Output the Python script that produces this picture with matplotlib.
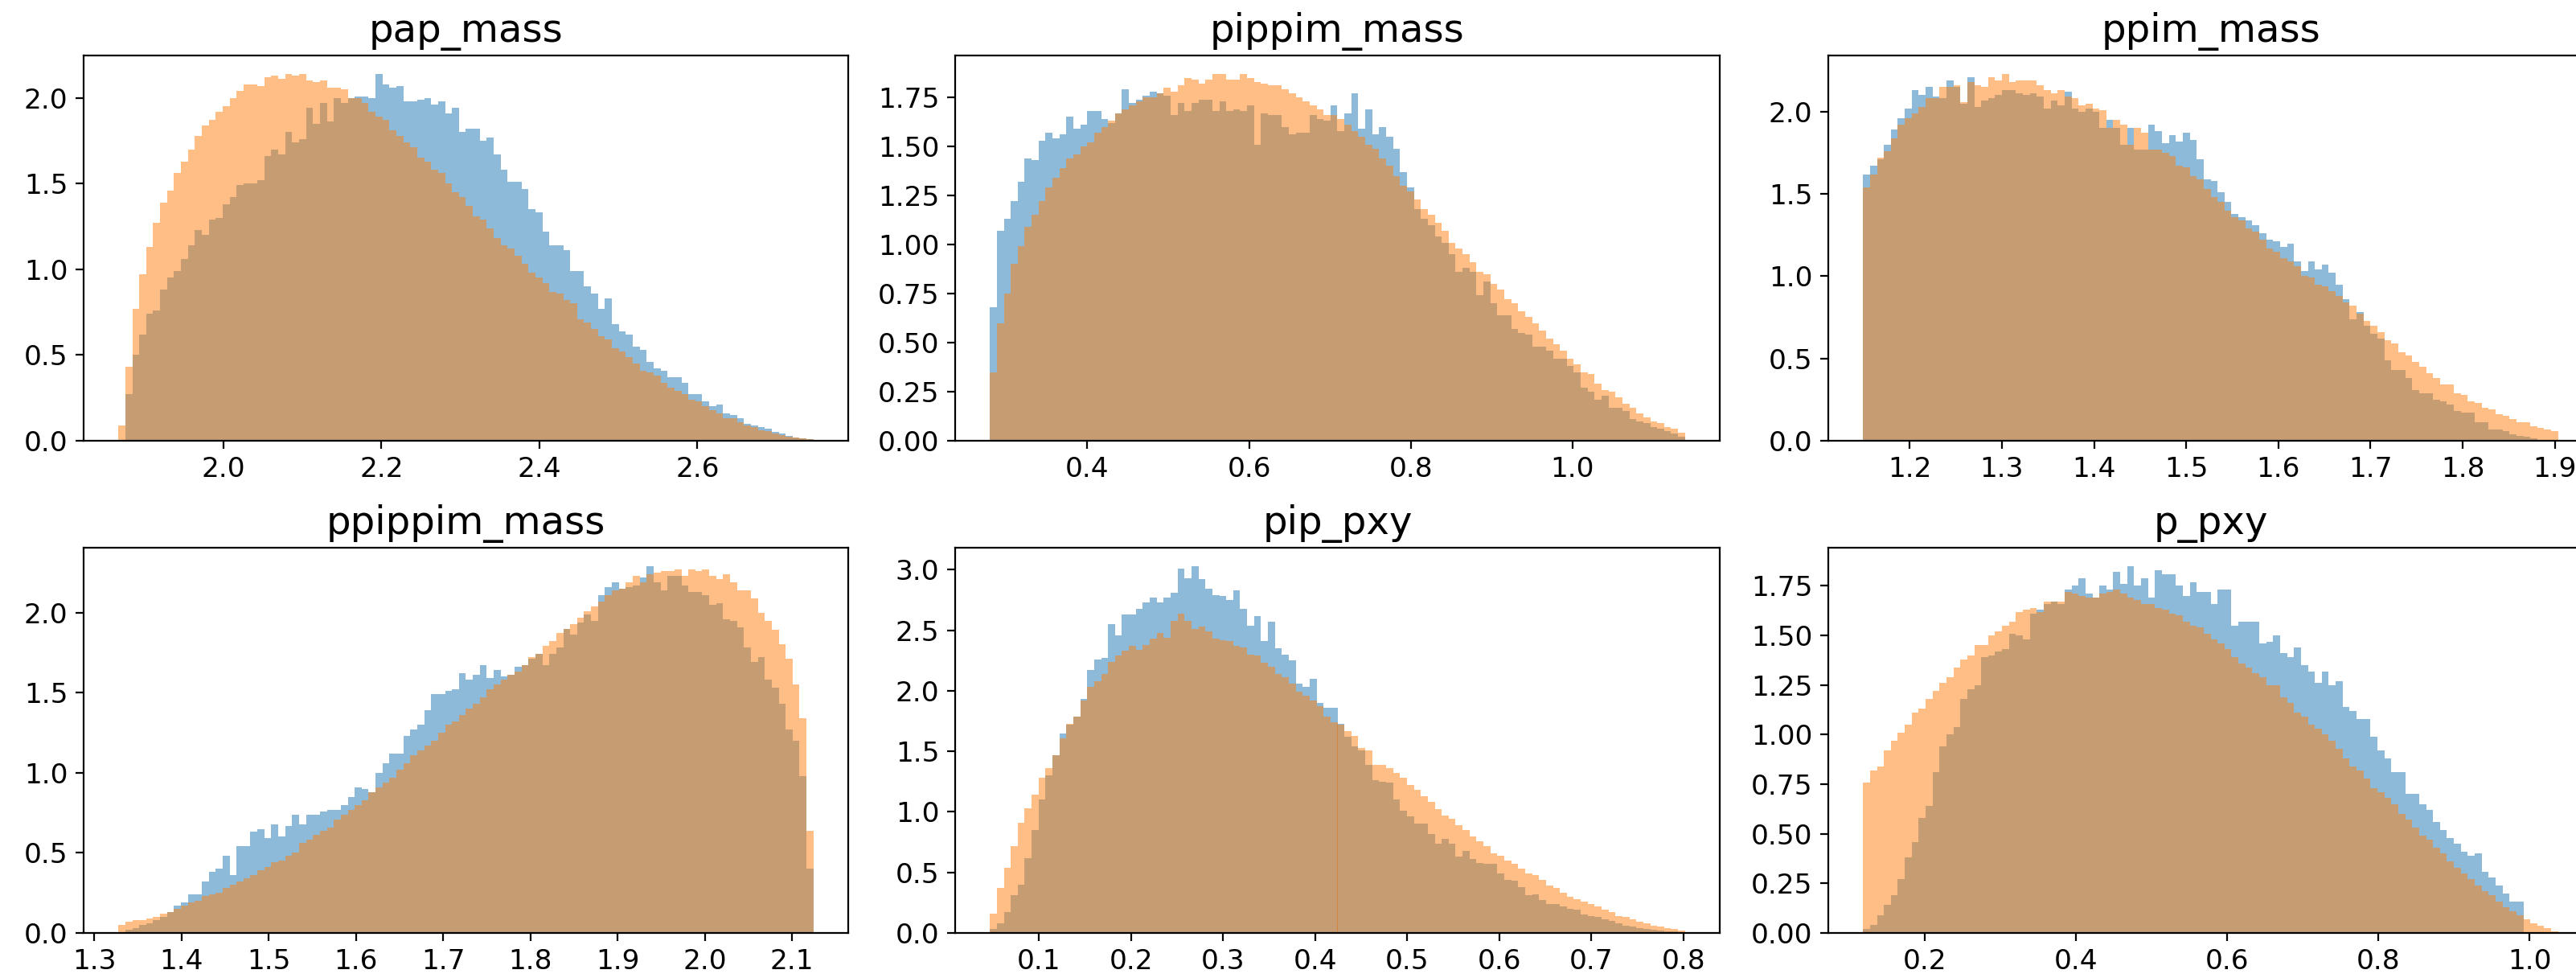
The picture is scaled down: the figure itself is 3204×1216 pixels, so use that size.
import matplotlib
matplotlib.use('Agg')
import matplotlib.pyplot as plt
from matplotlib.ticker import MultipleLocator
import numpy as np

# panel names and histogram ranges (100 bins each, density-normalised heights)
titles = ['pap_mass', 'pippim_mass', 'ppim_mass', 'ppippim_mass', 'pip_pxy', 'p_pxy']
ranges = [(1.867, 2.747), (0.2795, 1.139), (1.1493, 1.9036),
          (1.3277, 2.1246), (0.0468, 0.8018), (0.1182, 1.038)]
ytick_steps = [0.5, 0.25, 0.5, 0.5, 0.5, 0.25]

pap_mass_blue = [
    0.0, 0.27, 0.50, 0.62, 0.74, 0.76, 0.88, 0.95, 0.99, 1.06,
    1.14, 1.23, 1.20, 1.29, 1.30, 1.38, 1.42, 1.49, 1.50, 1.50,
    1.52, 1.66, 1.70, 1.67, 1.80, 1.74, 1.76, 1.94, 1.85, 1.97,
    1.86, 2.00, 1.97, 2.00, 2.01, 2.01, 2.00, 2.14, 2.08, 2.06,
    2.07, 1.98, 1.98, 1.99, 2.00, 1.96, 1.98, 1.91, 1.94, 1.80,
    1.82, 1.82, 1.75, 1.77, 1.67, 1.58, 1.51, 1.51, 1.47, 1.35,
    1.33, 1.22, 1.14, 1.14, 1.11, 0.99, 0.99, 0.90, 0.86, 0.77,
    0.83, 0.68, 0.64, 0.62, 0.55, 0.53, 0.46, 0.42, 0.41, 0.37,
    0.37, 0.34, 0.27, 0.27, 0.23, 0.20, 0.21, 0.16, 0.15, 0.13,
    0.10, 0.09, 0.08, 0.07, 0.05, 0.04, 0.03, 0.02, 0.015, 0.01]
pap_mass_orange = [
    0.09, 0.43, 0.77, 0.97, 1.13, 1.27, 1.39, 1.46, 1.56, 1.63,
    1.70, 1.78, 1.84, 1.87, 1.92, 1.95, 2.00, 2.04, 2.08, 2.08,
    2.07, 2.12, 2.13, 2.11, 2.14, 2.13, 2.14, 2.10, 2.09, 2.10,
    2.06, 2.06, 2.05, 2.00, 2.00, 1.97, 1.92, 1.89, 1.87, 1.81,
    1.78, 1.74, 1.71, 1.65, 1.63, 1.58, 1.56, 1.50, 1.45, 1.42,
    1.37, 1.31, 1.29, 1.24, 1.18, 1.14, 1.12, 1.08, 1.03, 0.98,
    0.95, 0.92, 0.87, 0.86, 0.82, 0.80, 0.71, 0.69, 0.65, 0.61,
    0.59, 0.54, 0.52, 0.49, 0.45, 0.41, 0.40, 0.38, 0.34, 0.31,
    0.29, 0.27, 0.24, 0.23, 0.20, 0.18, 0.16, 0.13, 0.13, 0.11,
    0.09, 0.08, 0.06, 0.055, 0.04, 0.035, 0.025, 0.02, 0.015, 0.01]

pippim_mass_blue = [
    0.68, 1.07, 1.13, 1.22, 1.32, 1.44, 1.43, 1.53, 1.57, 1.54,
    1.56, 1.65, 1.59, 1.61, 1.68, 1.68, 1.64, 1.62, 1.67, 1.79,
    1.72, 1.74, 1.76, 1.78, 1.77, 1.76, 1.66, 1.72, 1.68, 1.72,
    1.74, 1.74, 1.68, 1.73, 1.68, 1.69, 1.68, 1.71, 1.51, 1.67,
    1.66, 1.66, 1.60, 1.56, 1.57, 1.57, 1.66, 1.64, 1.63, 1.71,
    1.58, 1.67, 1.77, 1.59, 1.69, 1.56, 1.60, 1.55, 1.49, 1.37,
    1.29, 1.18, 1.13, 1.10, 1.04, 1.01, 0.95, 0.86, 0.88, 0.86,
    0.74, 0.81, 0.70, 0.64, 0.64, 0.57, 0.55, 0.54, 0.48, 0.48,
    0.46, 0.42, 0.42, 0.38, 0.35, 0.27, 0.25, 0.21, 0.23, 0.17,
    0.17, 0.15, 0.11, 0.10, 0.09, 0.07, 0.06, 0.05, 0.035, 0.02]
pippim_mass_orange = [
    0.35, 0.60, 0.75, 0.90, 0.99, 1.09, 1.15, 1.22, 1.29, 1.34,
    1.39, 1.44, 1.46, 1.50, 1.52, 1.57, 1.60, 1.63, 1.67, 1.69,
    1.71, 1.73, 1.75, 1.75, 1.77, 1.80, 1.78, 1.81, 1.85, 1.84,
    1.82, 1.84, 1.87, 1.87, 1.84, 1.84, 1.87, 1.85, 1.83, 1.82,
    1.81, 1.81, 1.79, 1.77, 1.75, 1.73, 1.71, 1.69, 1.66, 1.66,
    1.64, 1.61, 1.58, 1.55, 1.51, 1.49, 1.44, 1.40, 1.35, 1.30,
    1.27, 1.23, 1.18, 1.15, 1.11, 1.07, 1.01, 0.98, 0.95, 0.91,
    0.86, 0.85, 0.80, 0.77, 0.72, 0.70, 0.66, 0.63, 0.60, 0.56,
    0.52, 0.49, 0.46, 0.42, 0.39, 0.35, 0.34, 0.29, 0.26, 0.25,
    0.22, 0.19, 0.17, 0.14, 0.12, 0.10, 0.09, 0.07, 0.06, 0.04]

ppim_mass_blue = [
    1.62, 1.67, 1.71, 1.80, 1.89, 1.96, 2.02, 2.13, 2.10, 2.15,
    2.09, 2.08, 2.19, 2.15, 2.05, 2.21, 2.03, 2.07, 2.08, 2.10,
    2.13, 2.13, 2.11, 2.10, 2.11, 2.09, 2.02, 2.07, 2.04, 2.12,
    2.02, 2.00, 2.02, 2.00, 1.90, 1.95, 1.90, 1.80, 1.90, 1.77,
    1.77, 1.92, 1.88, 1.81, 1.86, 1.82, 1.87, 1.83, 1.71, 1.59,
    1.58, 1.51, 1.45, 1.38, 1.36, 1.34, 1.31, 1.26, 1.22, 1.21,
    1.18, 1.20, 1.09, 1.03, 1.09, 1.04, 1.07, 1.02, 0.95, 0.86,
    0.74, 0.78, 0.70, 0.65, 0.62, 0.49, 0.43, 0.43, 0.38, 0.31,
    0.29, 0.29, 0.25, 0.24, 0.22, 0.18, 0.17, 0.17, 0.11, 0.11,
    0.07, 0.07, 0.06, 0.04, 0.03, 0.025, 0.015, 0.0, 0.0, 0.0]
ppim_mass_orange = [
    1.54, 1.62, 1.72, 1.76, 1.84, 1.92, 1.96, 1.99, 2.03, 2.08,
    2.08, 2.15, 2.15, 2.16, 2.06, 2.18, 2.16, 2.15, 2.21, 2.19,
    2.23, 2.18, 2.19, 2.19, 2.19, 2.16, 2.13, 2.11, 2.13, 2.09,
    2.08, 2.04, 2.05, 2.02, 2.01, 1.90, 1.95, 1.92, 1.80, 1.90,
    1.87, 1.77, 1.77, 1.75, 1.73, 1.67, 1.66, 1.61, 1.59, 1.53,
    1.48, 1.45, 1.40, 1.36, 1.34, 1.29, 1.27, 1.22, 1.17, 1.15,
    1.11, 1.09, 1.06, 1.00, 0.99, 0.95, 0.94, 0.91, 0.88, 0.84,
    0.82, 0.77, 0.73, 0.70, 0.66, 0.61, 0.59, 0.54, 0.52, 0.48,
    0.45, 0.41, 0.38, 0.34, 0.34, 0.29, 0.28, 0.24, 0.23, 0.20,
    0.19, 0.16, 0.15, 0.13, 0.11, 0.11, 0.09, 0.08, 0.07, 0.06]

ppippim_mass_blue = [
    0.0, 0.02, 0.03, 0.05, 0.06, 0.08, 0.10, 0.13, 0.17, 0.19,
    0.24, 0.24, 0.32, 0.38, 0.40, 0.48, 0.36, 0.54, 0.54, 0.63,
    0.65, 0.59, 0.68, 0.60, 0.67, 0.74, 0.68, 0.74, 0.74, 0.76,
    0.77, 0.77, 0.80, 0.85, 0.91, 0.90, 0.88, 1.00, 1.06, 1.12,
    1.12, 1.23, 1.27, 1.30, 1.39, 1.49, 1.49, 1.51, 1.52, 1.62,
    1.58, 1.61, 1.67, 1.59, 1.64, 1.60, 1.61, 1.66, 1.67, 1.71,
    1.74, 1.67, 1.74, 1.78, 1.90, 1.86, 1.94, 1.99, 1.95, 2.11,
    2.16, 2.19, 2.15, 2.16, 2.17, 2.22, 2.29, 2.19, 2.14, 2.23,
    2.23, 2.17, 2.13, 2.13, 2.11, 2.05, 2.06, 1.96, 1.95, 1.91,
    1.78, 1.69, 1.72, 1.58, 1.53, 1.43, 1.27, 1.20, 0.98, 0.40]
ppippim_mass_orange = [
    0.05, 0.07, 0.08, 0.08, 0.09, 0.10, 0.12, 0.13, 0.15, 0.17,
    0.19, 0.20, 0.23, 0.24, 0.25, 0.28, 0.30, 0.32, 0.34, 0.36,
    0.39, 0.41, 0.44, 0.45, 0.48, 0.50, 0.56, 0.58, 0.61, 0.64,
    0.66, 0.71, 0.74, 0.77, 0.80, 0.83, 0.88, 0.91, 0.94, 0.97,
    1.02, 1.06, 1.11, 1.14, 1.17, 1.20, 1.25, 1.30, 1.32, 1.36,
    1.40, 1.43, 1.47, 1.52, 1.55, 1.58, 1.61, 1.63, 1.67, 1.72,
    1.74, 1.79, 1.82, 1.87, 1.90, 1.93, 1.97, 2.01, 2.04, 2.07,
    2.11, 2.14, 2.15, 2.19, 2.23, 2.19, 2.24, 2.25, 2.26, 2.26,
    2.27, 2.23, 2.27, 2.26, 2.27, 2.23, 2.21, 2.24, 2.19, 2.14,
    2.14, 2.09, 2.00, 1.95, 1.89, 1.80, 1.71, 1.55, 1.34, 0.64]

pip_pxy_blue = [
    0.03, 0.08, 0.17, 0.31, 0.40, 0.62, 0.85, 1.10, 1.30, 1.47,
    1.65, 1.72, 1.79, 1.93, 2.17, 2.26, 2.27, 2.55, 2.46, 2.63,
    2.63, 2.68, 2.73, 2.77, 2.73, 2.77, 2.81, 3.01, 2.93, 3.03,
    2.92, 2.84, 2.79, 2.78, 2.75, 2.83, 2.68, 2.54, 2.62, 2.41,
    2.57, 2.35, 2.30, 2.25, 2.06, 2.03, 2.10, 1.90, 1.86, 1.86,
    1.73, 1.62, 1.54, 1.51, 1.39, 1.26, 1.25, 1.24, 1.10, 1.01,
    0.96, 0.90, 0.90, 0.82, 0.74, 0.78, 0.74, 0.63, 0.68, 0.61,
    0.58, 0.57, 0.57, 0.49, 0.44, 0.43, 0.38, 0.31, 0.32, 0.27,
    0.24, 0.24, 0.22, 0.20, 0.19, 0.15, 0.14, 0.13, 0.11, 0.10,
    0.08, 0.06, 0.055, 0.04, 0.035, 0.025, 0.02, 0.013, 0.01, 0.005]
pip_pxy_orange = [
    0.16, 0.37, 0.54, 0.72, 0.91, 1.03, 1.14, 1.28, 1.36, 1.47,
    1.61, 1.73, 1.79, 1.92, 2.03, 2.08, 2.14, 2.24, 2.29, 2.33,
    2.37, 2.34, 2.38, 2.43, 2.48, 2.44, 2.58, 2.64, 2.58, 2.51,
    2.53, 2.49, 2.43, 2.42, 2.41, 2.37, 2.36, 2.30, 2.29, 2.23,
    2.20, 2.14, 2.11, 2.06, 1.99, 1.96, 1.92, 1.87, 1.79, 1.74,
    1.72, 1.67, 1.63, 1.53, 1.51, 1.39, 1.39, 1.36, 1.32, 1.28,
    1.22, 1.18, 1.13, 1.08, 1.02, 0.97, 0.94, 0.89, 0.85, 0.80,
    0.76, 0.72, 0.66, 0.64, 0.60, 0.57, 0.53, 0.49, 0.48, 0.44,
    0.39, 0.37, 0.33, 0.30, 0.28, 0.26, 0.24, 0.22, 0.19, 0.17,
    0.14, 0.13, 0.11, 0.09, 0.08, 0.06, 0.05, 0.04, 0.03, 0.02]

p_pxy_blue = [
    0.02, 0.04, 0.09, 0.14, 0.19, 0.27, 0.38, 0.46, 0.58, 0.64,
    0.81, 0.94, 1.00, 1.04, 1.18, 1.23, 1.25, 1.39, 1.40, 1.42,
    1.43, 1.51, 1.50, 1.48, 1.61, 1.63, 1.66, 1.67, 1.66, 1.73,
    1.75, 1.79, 1.71, 1.69, 1.75, 1.73, 1.82, 1.76, 1.85, 1.75,
    1.79, 1.69, 1.83, 1.81, 1.81, 1.75, 1.70, 1.77, 1.72, 1.72,
    1.66, 1.73, 1.73, 1.55, 1.57, 1.57, 1.57, 1.46, 1.47, 1.50,
    1.41, 1.39, 1.44, 1.35, 1.32, 1.26, 1.32, 1.25, 1.27, 1.14,
    1.12, 1.08, 1.08, 0.99, 0.92, 0.88, 0.81, 0.81, 0.70, 0.70,
    0.65, 0.62, 0.56, 0.52, 0.48, 0.45, 0.41, 0.39, 0.40, 0.31,
    0.28, 0.24, 0.20, 0.16, 0.16, 0.0, 0.0, 0.0, 0.0, 0.0]
p_pxy_orange = [
    0.76, 0.82, 0.84, 0.92, 0.97, 1.01, 1.05, 1.11, 1.13, 1.18,
    1.22, 1.26, 1.29, 1.34, 1.38, 1.40, 1.45, 1.45, 1.50, 1.52,
    1.55, 1.57, 1.62, 1.63, 1.64, 1.62, 1.67, 1.67, 1.67, 1.72,
    1.71, 1.70, 1.69, 1.69, 1.71, 1.72, 1.73, 1.71, 1.69, 1.68,
    1.66, 1.66, 1.64, 1.63, 1.61, 1.60, 1.57, 1.55, 1.54, 1.51,
    1.48, 1.46, 1.43, 1.39, 1.36, 1.34, 1.31, 1.29, 1.25, 1.25,
    1.19, 1.16, 1.11, 1.09, 1.05, 1.03, 1.00, 0.97, 0.93, 0.88,
    0.84, 0.82, 0.78, 0.73, 0.71, 0.68, 0.65, 0.60, 0.57, 0.53,
    0.49, 0.47, 0.43, 0.40, 0.36, 0.33, 0.30, 0.27, 0.24, 0.21,
    0.19, 0.16, 0.13, 0.11, 0.09, 0.07, 0.05, 0.035, 0.025, 0.01]

blues = [pap_mass_blue, pippim_mass_blue, ppim_mass_blue,
         ppippim_mass_blue, pip_pxy_blue, p_pxy_blue]
oranges = [pap_mass_orange, pippim_mass_orange, ppim_mass_orange,
           ppippim_mass_orange, pip_pxy_orange, p_pxy_orange]

W, H = 3205, 1216
fig = plt.figure(figsize=(W / 200, H / 200), dpi=200)

# axes boxes in pixels (the right column runs slightly past the figure edge, as in the original)
col_left = [104, 1188, 2274]
row_top = [69, 681]
ax_w, ax_h = 951, 479

for i, name in enumerate(titles):
    r, c = divmod(i, 3)
    ax = fig.add_axes([col_left[c] / W, 1 - (row_top[r] + ax_h) / H, ax_w / W, ax_h / H])
    lo, hi = ranges[i]
    edges = np.linspace(lo, hi, len(blues[i]) + 1)
    centers = (edges[:-1] + edges[1:]) / 2
    ax.hist(centers, bins=edges, weights=blues[i], alpha=0.5)
    ax.hist(centers, bins=edges, weights=oranges[i], alpha=0.5)
    ax.yaxis.set_major_locator(MultipleLocator(ytick_steps[i]))
    ax.set_title(name, fontsize=17.4)
    ax.tick_params(labelsize=12.4)

fig.savefig('out.png', dpi=200)
